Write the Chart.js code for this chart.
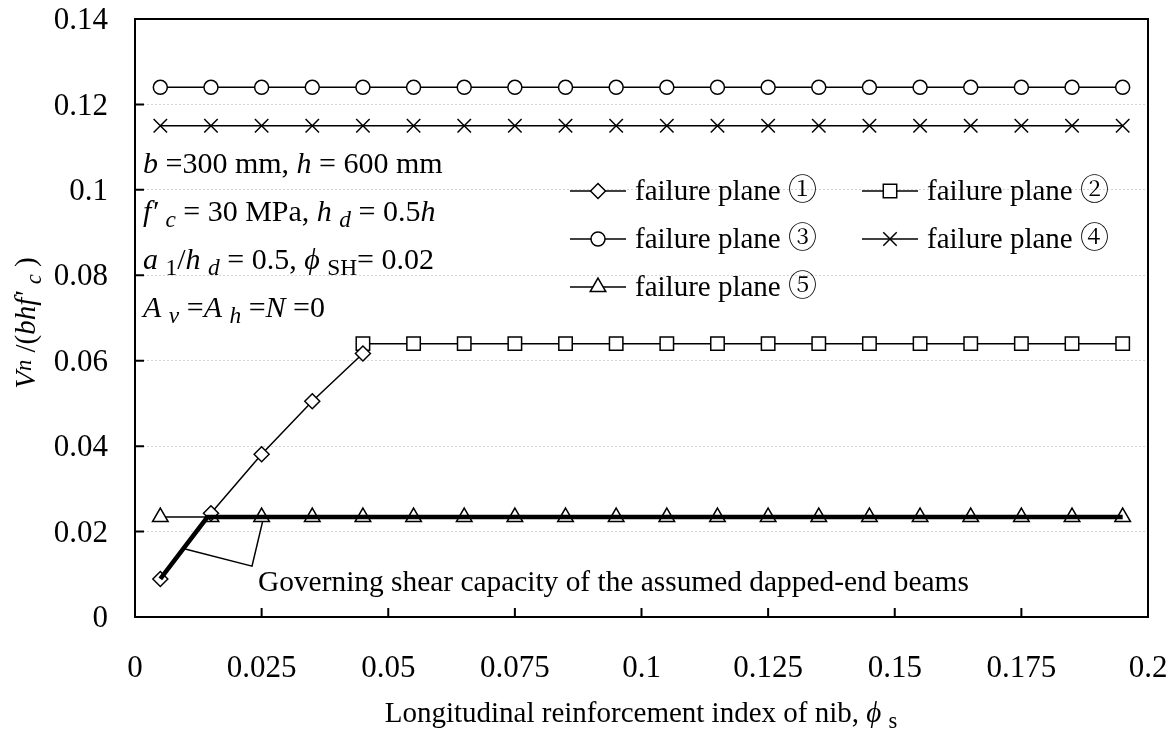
<!DOCTYPE html>
<html><head><meta charset="utf-8">
<script src="https://cdn.jsdelivr.net/npm/chart.js@4.4.0/dist/chart.umd.min.js"></script>
<style>html,body{margin:0;padding:0;background:#fff;}#wrap{width:1174px;height:740px;}</style>
</head><body><div id="wrap"><canvas id="c" width="1174" height="740"></canvas></div>
<script>
// ---- data ----
const xValues = [0.005,0.015,0.025,0.035,0.045,0.055,0.065,0.075,0.085,0.095,0.105,0.115,0.125,0.135,0.145,0.155,0.165,0.175,0.185,0.195];
const plane1X = [0.005,0.015,0.025,0.035,0.045];
const plane1Y = [0.0089,0.0243,0.0381,0.0505,0.0617];
const plane2X = [0.045,0.055,0.065,0.075,0.085,0.095,0.105,0.115,0.125,0.135,0.145,0.155,0.165,0.175,0.185,0.195];
const plane2Y = [0.064,0.064,0.064,0.064,0.064,0.064,0.064,0.064,0.064,0.064,0.064,0.064,0.064,0.064,0.064,0.064];
const plane3Y = [0.124,0.124,0.124,0.124,0.124,0.124,0.124,0.124,0.124,0.124,0.124,0.124,0.124,0.124,0.124,0.124,0.124,0.124,0.124,0.124];
const plane4Y = [0.115,0.115,0.115,0.115,0.115,0.115,0.115,0.115,0.115,0.115,0.115,0.115,0.115,0.115,0.115,0.115,0.115,0.115,0.115,0.115];
const plane5Y = [0.0234,0.0234,0.0234,0.0234,0.0234,0.0234,0.0234,0.0234,0.0234,0.0234,0.0234,0.0234,0.0234,0.0234,0.0234,0.0234,0.0234,0.0234,0.0234,0.0234];
const governX = [0.005,0.0143,0.195];
const governY = [0.0089,0.0234,0.0234];
const leaderX = [0.0099,0.0231,0.0252];
const leaderY = [0.0159,0.0119,0.0224];
const xTickValues = [0,0.025,0.05,0.075,0.1,0.125,0.15,0.175,0.2];
const xTickLabels = ['0','0.025','0.05','0.075','0.1','0.125','0.15','0.175','0.2'];
const yTickValues = [0,0.02,0.04,0.06,0.08,0.1,0.12,0.14];
const yTickLabels = ['0','0.02','0.04','0.06','0.08','0.1','0.12','0.14'];
const seriesNames = ['failure plane \u2460','failure plane \u2461','failure plane \u2462','failure plane \u2463','failure plane \u2464'];

const FAM = '"Liberation Serif","Times New Roman","Noto Serif CJK JP","Noto Sans CJK JP",serif';
const pts = (xs, ys) => xs.map((x, i) => ({x: x, y: ys[i]}));
const styles = [
  {pointStyle:'rectRot', radius:7.5},
  {pointStyle:'rect', radius:9.5},
  {pointStyle:'circle', radius:7},
  {pointStyle:'crossRot', radius:9.5},
  {pointStyle:'triangle', radius:9}
];
function ds(label, data, st) {
  return {label, data, borderColor:'#000', backgroundColor:'#fff', borderWidth:1.5,
    pointStyle: st.pointStyle, pointRadius: st.radius, pointHoverRadius: st.radius,
    pointBorderWidth:1.5, pointBackgroundColor:'#fff', pointBorderColor:'#000', tension:0, order:2};
}

// segment styles: i = italic, b = subscript, p = slightly raised small
function drawRich(ctx, x, y, segs, size, align) {
  const small = st => st.indexOf('b') >= 0 || st.indexOf('p') >= 0;
  const fontFor = (st) => {
    const it = st.indexOf('i') >= 0 ? 'italic ' : '';
    const sz = small(st) ? size * 0.78 : size;
    return it + sz + 'px ' + FAM;
  };
  let total = 0;
  segs.forEach(s => { ctx.font = fontFor(s[1]); total += ctx.measureText(s[0]).width; });
  let cx = align === 'center' ? x - total / 2 : x;
  ctx.textAlign = 'left';
  ctx.textBaseline = 'alphabetic';
  segs.forEach(s => {
    ctx.font = fontFor(s[1]);
    let dy = 0;
    if (s[1].indexOf('b') >= 0) dy = size * 0.2;
    if (s[1].indexOf('p') >= 0) dy = -size * 0.15;
    ctx.fillText(s[0], cx, y + dy);
    cx += ctx.measureText(s[0]).width;
  });
}

const decor = {
  id: 'decor',
  afterDraw(chart) {
    const ctx = chart.ctx;
    const a = chart.chartArea;
    const xs = chart.scales.x, ys = chart.scales.y;
    ctx.save();
    ctx.fillStyle = '#000';
    ctx.strokeStyle = '#000';
    // frame
    ctx.lineWidth = 2;
    ctx.strokeRect(a.left, a.top, a.right - a.left, a.bottom - a.top);
    // inward ticks
    ctx.beginPath();
    yTickValues.forEach(v => { const py = ys.getPixelForValue(v); ctx.moveTo(a.left, py); ctx.lineTo(a.left + 9, py); });
    xTickValues.forEach(v => { const px = xs.getPixelForValue(v); ctx.moveTo(px, a.bottom); ctx.lineTo(px, a.bottom - 9); });
    ctx.stroke();

    // tick labels
    const TS = 31;
    ctx.font = TS + 'px ' + FAM;
    ctx.textAlign = 'right';
    ctx.textBaseline = 'middle';
    yTickValues.forEach((v, i) => ctx.fillText(yTickLabels[i], a.left - 27, ys.getPixelForValue(v) + 2));
    ctx.textAlign = 'center';
    ctx.textBaseline = 'alphabetic';
    xTickValues.forEach((v, i) => ctx.fillText(xTickLabels[i], xs.getPixelForValue(v), a.bottom + 60));

    // parameter text block
    const S = 30;
    drawRich(ctx, 143, 173, [['b','i'],[' =300 mm, ',''],['h','i'],[' = 600 mm','']], S);
    drawRich(ctx, 143, 221, [["f\u2032",'i'],[' ',''],['c','ib'],[' = 30 MPa, ',''],['h','i'],[' ',''],['d','ib'],[' = 0.5',''],['h','i']], S);
    drawRich(ctx, 143, 269, [['a','i'],[' ',''],['1','b'],['/',''],['h','i'],[' ',''],['d','ib'],[' = 0.5, ',''],['\u03D5','i'],[' ',''],['SH','b'],['= 0.02','']], S);
    drawRich(ctx, 143, 317, [['A','i'],[' ',''],['v','ib'],[' =',''],['A','i'],[' ',''],['h','ib'],[' =',''],['N','i'],[' =0','']], S);

    // annotation
    drawRich(ctx, 258, 591, [['Governing shear capacity of the assumed dapped-end beams','']], 29.4);

    // legend
    const legendPos = [[570,191],[862,191],[570,239],[862,239],[570,287]];
    legendPos.forEach((p, i) => {
      ctx.lineWidth = 1.5;
      ctx.strokeStyle = '#000';
      ctx.beginPath(); ctx.moveTo(p[0], p[1]); ctx.lineTo(p[0] + 56, p[1]); ctx.stroke();
      ctx.fillStyle = '#fff';
      Chart.helpers.drawPoint(ctx, {pointStyle: styles[i].pointStyle, radius: styles[i].radius, borderWidth: 1.5, rotation: 0}, p[0] + 28, p[1]);
      ctx.fillStyle = '#000';
      ctx.font = '29px ' + FAM;
      ctx.textAlign = 'left';
      ctx.textBaseline = 'middle';
      ctx.fillText(seriesNames[i], p[0] + 65, p[1] + 1);
    });

    // x title
    ctx.fillStyle = '#000';
    drawRich(ctx, 641, 722, [['Longitudinal reinforcement index of nib, ',''],['\u03D5','i'],[' ',''],['s','b']], 29, 'center');

    // y title
    ctx.save();
    ctx.translate(35, 323);
    ctx.rotate(-Math.PI / 2);
    drawRich(ctx, 0, 0, [['V','i'],['n','ip'],[' /(',''],['bhf','i'],["'",'i'],[' ',''],['c','ib'],[' )','']], 29, 'center');
    ctx.restore();
    ctx.restore();
  }
};

new Chart(document.getElementById('c'), {
  type: 'line',
  data: {
    datasets: [
      ds(seriesNames[0], pts(plane1X, plane1Y), styles[0]),
      ds(seriesNames[1], pts(plane2X, plane2Y), styles[1]),
      ds(seriesNames[2], pts(xValues, plane3Y), styles[2]),
      ds(seriesNames[3], pts(xValues, plane4Y), styles[3]),
      ds(seriesNames[4], pts(xValues, plane5Y), styles[4]),
      {label:'governing', data: pts(governX, governY), borderColor:'#000', borderWidth:4.5, pointRadius:0, tension:0, order:1},
      {label:'leader', data: pts(leaderX, leaderY), borderColor:'#000', borderWidth:1.5, pointRadius:0, tension:0, order:1}
    ]
  },
  options: {
    responsive: false,
    animation: false,
    events: [],
    layout: {padding: {top: 19, right: 26, left: 0, bottom: 0}},
    plugins: {legend: {display: false}, tooltip: {enabled: false}},
    scales: {
      x: {
        type: 'linear', min: 0, max: 0.2,
        afterBuildTicks: s => { s.ticks = xTickValues.map(v => ({value: v})); },
        afterFit: s => { s.height = 123; },
        ticks: {display: false},
        grid: {display: false, drawTicks: false},
        border: {display: false}
      },
      y: {
        type: 'linear', min: 0, max: 0.14,
        afterBuildTicks: s => { s.ticks = yTickValues.map(v => ({value: v})); },
        afterFit: s => { s.width = 135; },
        ticks: {display: false},
        grid: {color: '#d4d4d4', lineWidth: 1, drawTicks: false},
        border: {display: false, dash: [2, 2]}
      }
    }
  },
  plugins: [decor]
});
</script>
</body></html>
